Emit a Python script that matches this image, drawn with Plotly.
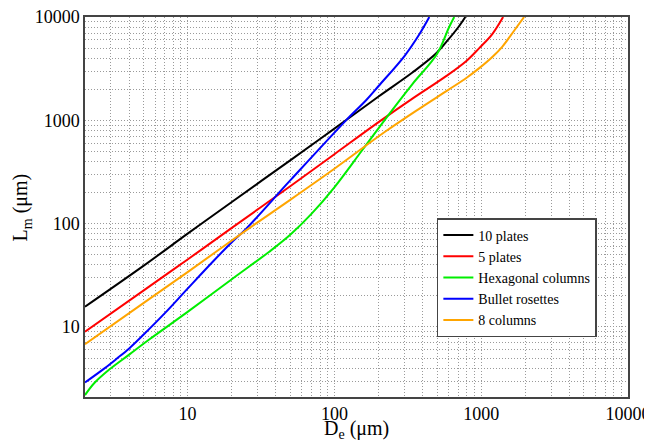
import math
import plotly.graph_objects as go

# ---- data (D_e in um, L_m in um) ----
plates10_D = [2, 5, 10, 20, 50, 100, 200, 340, 490, 600, 700, 780]
plates10_L = [15.7, 39, 80, 162, 410, 830, 1700, 2900, 4400, 6100, 8000, 10000]

plates5_D = [2, 5, 10, 20, 50, 100, 200, 340, 580, 800, 970, 1190, 1410]
plates5_L = [9, 22.5, 45, 91, 230, 470, 960, 1620, 2690, 3800, 5000, 6840, 10000]

hexcol_D = [2, 2.3, 2.9, 4, 5.5, 10, 20, 36, 50, 70, 100, 155, 236, 340, 500, 605, 655]
hexcol_L = [2.19, 2.84, 3.83, 5.4, 7.6, 14, 29, 53.5, 78, 125, 225, 516, 1150, 2245, 4385, 8000, 10000]

bullet_D = [2, 2.7, 3.3, 4, 5, 7, 10, 15, 20, 25, 50, 120, 165, 200, 300, 380, 443]
bullet_L = [2.9, 3.95, 4.95, 6.2, 8.4, 13.6, 23.5, 43.5, 66, 89, 262, 1000, 1573, 2148, 4190, 6844, 10000]

col8_D = [2, 5, 10, 25, 50, 100, 220, 380, 600, 800, 970, 1200, 1390, 1680, 1960]
col8_L = [6.8, 17, 34, 86, 170, 340, 770, 1300, 1980, 2600, 3200, 4150, 5150, 7400, 10000]

series_names = ["10 plates", "5 plates", "Hexagonal columns", "Bullet rosettes", "8 columns"]
series_D = [plates10_D, plates5_D, hexcol_D, bullet_D, col8_D]
series_L = [plates10_L, plates5_L, hexcol_L, bullet_L, col8_L]
series_colors = ["#000000", "#ff0000", "#00ee00", "#0000ff", "#ffa500"]

x_range = [2, 10000]
y_range = [2.1, 10000]
x_title = "D<sub>e</sub> (μm)"
y_title = "L<sub>m</sub> (μm)"

# tick positions: every 1..9 x 10^k, labels only at decades
def log_ticks(lo_exp, hi_exp):
    vals, texts = [], []
    for e in range(lo_exp, hi_exp + 1):
        for m in range(1, 10):
            v = m * 10 ** e
            vals.append(v)
            texts.append(str(v) if (m == 1 and v >= 10) else "")
    return vals, texts

xt_vals, xt_text = log_ticks(0, 4)
yt_vals, yt_text = log_ticks(0, 4)

fig = go.Figure()
for name, D, L, c in zip(series_names, series_D, series_L, series_colors):
    fig.add_trace(go.Scatter(x=D, y=L, mode="lines", name=name,
                             line=dict(color=c, width=2, shape="spline", smoothing=1.0)))

FONT = "Liberation Serif, Times New Roman, Times, DejaVu Serif, serif"
axis_common = dict(
    type="log", automargin=False, ticklabeloverflow="allow",
    showgrid=True, gridcolor="#9a9a9a", griddash="1px,2px", gridwidth=1,
    showline=True, mirror=True, linecolor="#444444", linewidth=1.5,
    ticks="", zeroline=False,
    tickfont=dict(family=FONT, size=18, color="black"),
)

fig.update_xaxes(**axis_common,
                 range=[math.log10(x_range[0]), math.log10(x_range[1])],
                 tickmode="array", tickvals=xt_vals, ticktext=xt_text)
fig.update_yaxes(**axis_common,
                 range=[math.log10(y_range[0]), math.log10(y_range[1])],
                 tickmode="array", tickvals=yt_vals, ticktext=yt_text)

fig.add_annotation(text=x_title, xref="paper", yref="paper", x=0.5, y=-0.085,
                   xanchor="center", yanchor="middle", showarrow=False,
                   font=dict(family=FONT, size=20, color="black"))
fig.add_annotation(text=y_title, xref="paper", yref="paper", x=-0.117, y=0.5,
                   xanchor="center", yanchor="middle", showarrow=False, textangle=-90,
                   font=dict(family=FONT, size=20, color="black"))

fig.update_layout(
    width=652, height=441,
    margin=dict(l=77, r=32, t=9, b=52),
    plot_bgcolor="white", paper_bgcolor="white",
    font=dict(family=FONT, color="black"),
    showlegend=True,
    legend=dict(x=0.648, y=0.471, xanchor="left", yanchor="top",
                bgcolor="white", bordercolor="#444444", borderwidth=1.5,
                font=dict(family=FONT, size=14, color="black"),
                itemwidth=30, tracegroupgap=0),
)

fig.write_html("out.html")
